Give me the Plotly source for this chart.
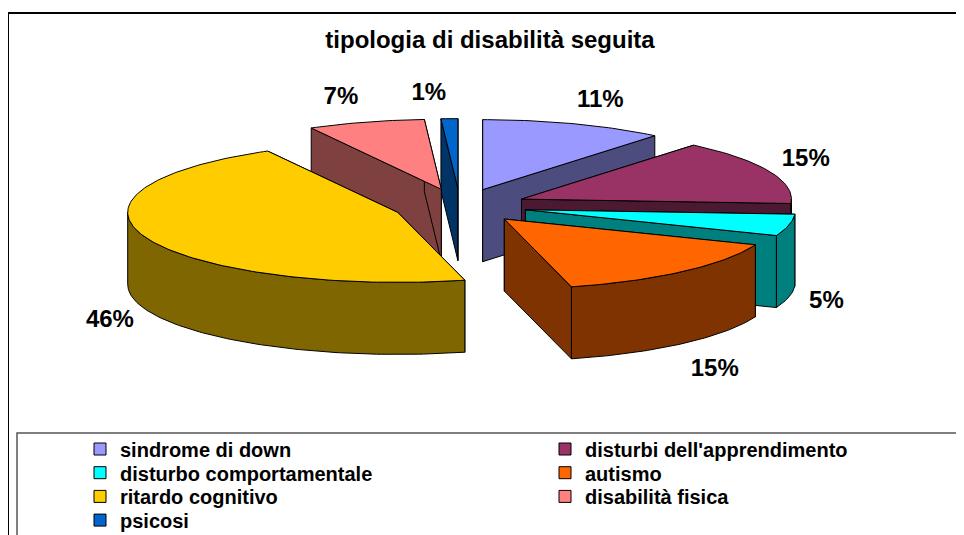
import numpy as np
import plotly.graph_objects as go

# ---- data ----
categories = ["sindrome di down", "disturbi dell'apprendimento", "disturbo comportamentale",
              "autismo", "ritardo cognitivo", "disabilità fisica", "psicosi"]
values = [11, 15, 5, 15, 46, 7, 1]
top_colors = ["#9999FF", "#993366", "#00FFFF", "#FF6600", "#FFCC00", "#FF8080", "#0066CC"]
title_text = "tipologia di disabilità seguita"

# ---- geometry of the pseudo-3D exploded pie (page pixels) ----
W, H = 964, 535
OFF = 8  # page body margin: the figure starts 8 px in from the page corner
CX, CY = 460, 206
R, RY = 270, 70
DEPTH = 72
EXPLODE = 67
K = RY / R
FONT = "Liberation Sans, Arial, sans-serif"


def darker(hexc, f=0.5):
    h = hexc.lstrip("#")
    r, g, b = (int(h[i:i + 2], 16) for i in (0, 2, 4))
    return "#%02x%02x%02x" % (int(r * f), int(g * f), int(b * f))


def rad(d):
    return np.deg2rad(d)


total = float(sum(values))
bounds = np.concatenate([[0.0], np.cumsum(values)]) / total * 360.0

slices = []
for i, v in enumerate(values):
    a1, a2 = bounds[i], bounds[i + 1]
    m = (a1 + a2) / 2
    ax = CX + EXPLODE * np.sin(rad(m))
    ay = CY - EXPLODE * K * np.cos(rad(m))
    slices.append(dict(i=i, a1=a1, a2=a2, m=m, ax=ax, ay=ay))


def rim(s, th):
    th = np.asarray(th, dtype=float)
    return s["ax"] + R * np.sin(rad(th)), s["ay"] - RY * np.cos(rad(th))


fig = go.Figure()


def poly(xs, ys, color):
    fig.add_trace(go.Scatter(
        x=list(xs) + [xs[0]], y=list(ys) + [ys[0]], mode="lines", fill="toself",
        fillcolor=color, line=dict(color="black", width=1),
        showlegend=False, hoverinfo="skip"))


# painter's order: back slices first
order = sorted(slices, key=lambda s: -np.cos(rad(s["m"])))
for s in order:
    top = top_colors[s["i"]]
    side = darker(top)
    # radial cut faces
    for th in (s["a1"], s["a2"]):
        rx, ry_ = rim(s, th)
        xs = [s["ax"], float(rx), float(rx), s["ax"]]
        ys = [s["ay"], float(ry_), float(ry_) + DEPTH, s["ay"] + DEPTH]
        poly(xs, ys, side)
    # front outer wall
    lo, hi = max(s["a1"], 90.0), min(s["a2"], 270.0)
    if lo < hi:
        th = np.linspace(lo, hi, int(hi - lo) + 2)
        rx, ry_ = rim(s, th)
        xs = list(rx) + list(rx[::-1])
        ys = list(ry_) + list((ry_ + DEPTH)[::-1])
        poly(xs, ys, side)
    # top face
    th = np.linspace(s["a1"], s["a2"], max(int(s["a2"] - s["a1"]) + 2, 3))
    rx, ry_ = rim(s, th)
    poly([s["ax"]] + list(rx), [s["ay"]] + list(ry_), top)

# percentage labels, placed outside each slice
lx, ly = [], []
for s in slices:
    sn, c = np.sin(rad(s["m"])), np.cos(rad(s["m"]))
    lx.append(CX + 355 * sn + 20 * np.sign(sn))
    if c < 0:
        ly.append(CY + 68 - 128 * c)
    else:
        ly.append(CY - 2 - 110 * c)
fig.add_trace(go.Scatter(
    x=lx, y=ly, mode="text", text=[f"{v}%" for v in values],
    textfont=dict(family=FONT, size=24, color="black", weight="bold"),
    showlegend=False, hoverinfo="skip"))

# legend: two columns, rows filled left to right (one legend box per entry for exact placement)
legend_layout = {}
for i, (name, col) in enumerate(zip(categories, top_colors)):
    lid = "legend" if i == 0 else f"legend{i + 1}"
    fig.add_trace(go.Scatter(
        x=[None], y=[None], mode="markers", name=name, legend=lid,
        marker=dict(symbol="square", size=12, color=col, line=dict(color="black", width=1))))
    row, colidx = divmod(i, 2)
    legend_layout[lid] = dict(
        x=(72 if colidx == 0 else 537) / W, xanchor="left",
        y=1 - (449 + 23.7 * row - OFF) / H, yanchor="middle",
        bgcolor="rgba(0,0,0,0)", borderwidth=0,
        font=dict(family=FONT, size=20, color="black", weight="bold"))

fig.update_layout(
    width=W, height=H, autosize=False,
    margin=dict(l=0, r=0, t=0, b=0, pad=0, autoexpand=False),
    paper_bgcolor="white", plot_bgcolor="white",
    xaxis=dict(range=[OFF, W + OFF], visible=False, fixedrange=True),
    yaxis=dict(range=[H + OFF, OFF], visible=False, fixedrange=True),
    title=dict(text=title_text, x=(490 - OFF) / W, xanchor="center",
               y=1 - (40 - OFF) / H, yanchor="middle",
               font=dict(family=FONT, size=24, color="black", weight="bold")),
    shapes=[
        dict(type="rect", xref="x", yref="y", x0=8, y0=13, x1=1000, y1=560,
             line=dict(color="black", width=2), fillcolor="rgba(0,0,0,0)"),
        dict(type="rect", xref="x", yref="y", x0=17, y0=433, x1=961, y1=560,
             line=dict(color="#555555", width=1.5), fillcolor="rgba(0,0,0,0)"),
    ],
    **legend_layout,
)

fig.write_html("out.html")
